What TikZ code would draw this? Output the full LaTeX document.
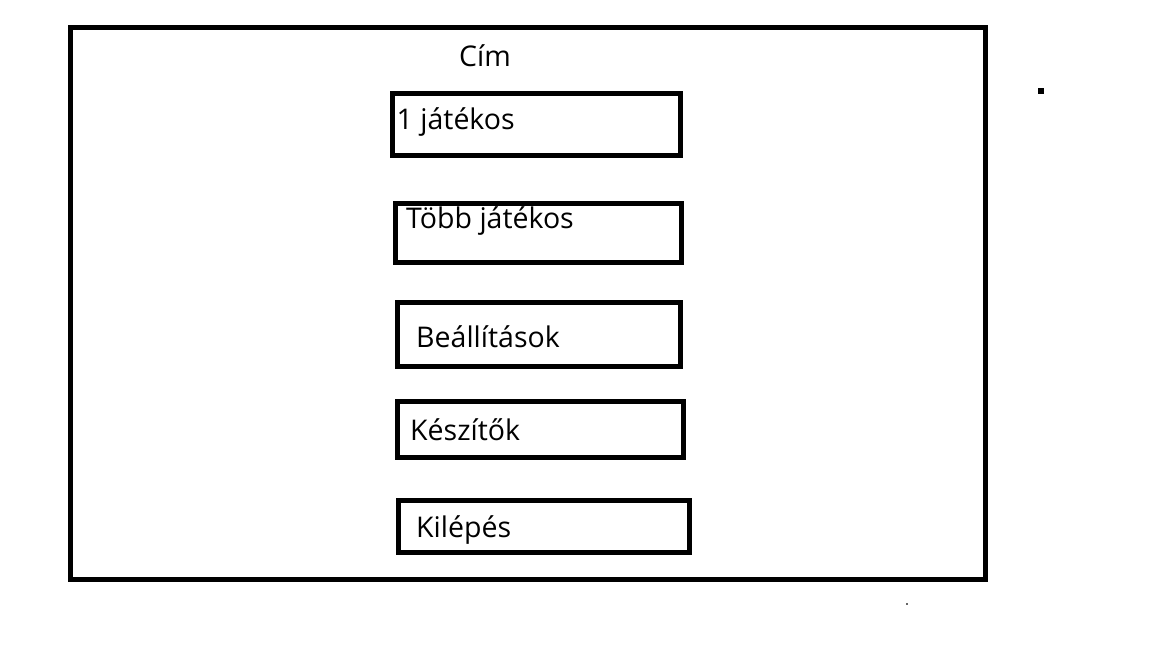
\documentclass[tikz,border=0pt]{standalone}
\usepackage{fontspec}
\setmainfont{Open Sans}
\begin{document}
\begin{tikzpicture}[x=1pt,y=-1pt,
  menubox/.style={draw=black,line width=5pt,inner sep=0pt,outer sep=0pt,anchor=north west},
  lbl/.style={anchor=base west,inner sep=0pt,font=\fontsize{28.5}{34}\selectfont}]
\useasboundingbox[fill=white] (0,0) rectangle (1152,648);
\node[menubox,minimum width=915pt,minimum height=552pt] (frame) at (70,27.5) {};
\node[lbl] (title) at (459,66) {Cím};
\node[menubox,minimum width=288pt,minimum height=62pt] (b1) at (392.5,93) {};
\node[lbl] (t1) at (396.5,129) {1 játékos};
\node[menubox,minimum width=286pt,minimum height=59pt] (b2) at (395.5,203.5) {};
\node[lbl] (t2) at (406,228.5) {Több játékos};
\node[menubox,minimum width=283.5pt,minimum height=64pt] (b3) at (397,302.5) {};
\node[lbl] (t3) at (416,347) {Beállítások};
\node[menubox,minimum width=286.5pt,minimum height=56pt] (b4) at (397,401.5) {};
\node[lbl] (t4) at (410,440) {Készítők};
\node[menubox,minimum width=291.5pt,minimum height=52pt] (b5) at (398,500.5) {};
\node[lbl] (t5) at (416,537) {Kilépés};
\fill[black] (1038,88) rectangle (1044,94);
\fill[black!60] (906.3,603.3) rectangle (907.7,604.7);
\end{tikzpicture}
\end{document}
